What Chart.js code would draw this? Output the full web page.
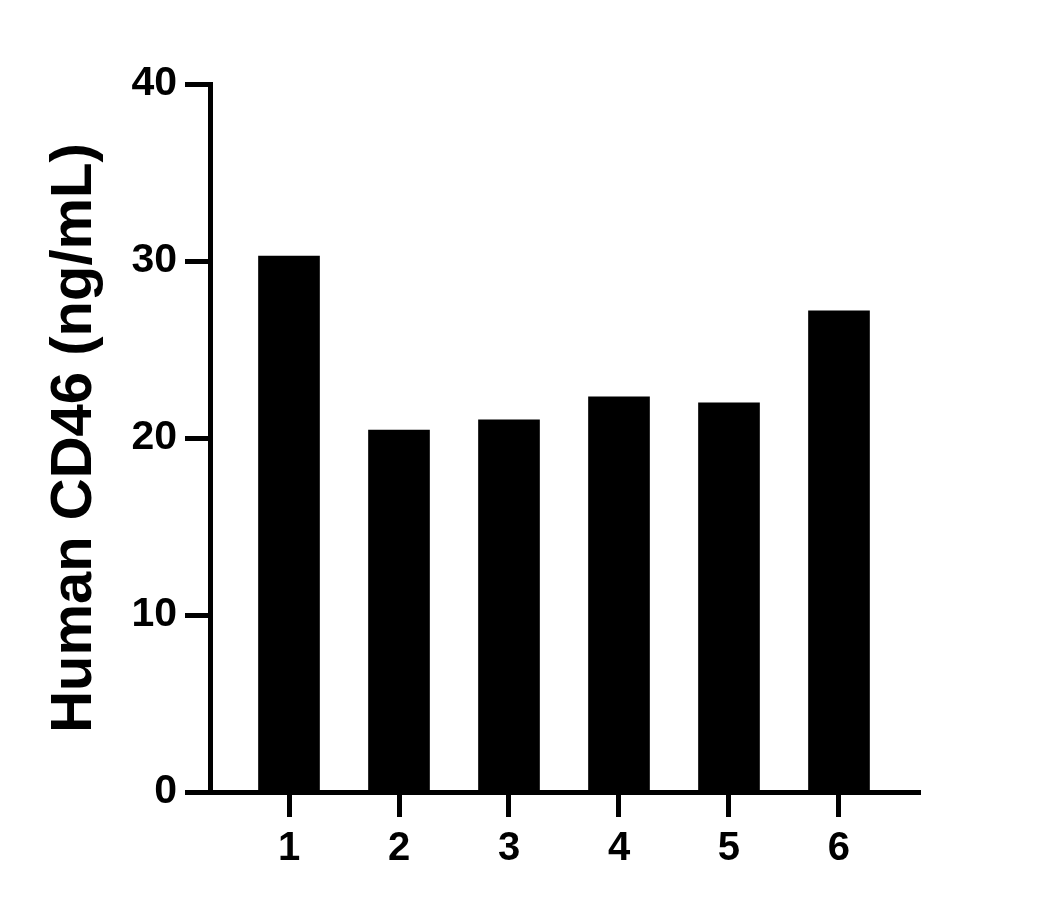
<!DOCTYPE html>
<html>
<head>
<meta charset="utf-8">
<script src="https://cdn.jsdelivr.net/npm/chart.js@4/dist/chart.umd.min.js"></script>
<style>
  html, body { margin: 0; padding: 0; background: #ffffff; }
  #wrap { width: 1052px; height: 909px; }
</style>
</head>
<body>
<div id="wrap"><canvas id="c" width="1052" height="909"></canvas></div>
<script>
// ---- data ----
const categories = [1, 2, 3, 4, 5, 6];
const values = [30.28, 20.45, 21.02, 22.32, 21.98, 27.18];
const yTicks = [0, 10, 20, 30, 40];
const yTitle = 'Human CD46 (ng/mL)';

const FONT = '"Liberation Sans", Arial, Helvetica, sans-serif';

const chart = new Chart(document.getElementById('c'), {
  type: 'bar',
  data: {
    datasets: [{
      data: categories.map((c, i) => ({ x: c, y: values[i] })),
      backgroundColor: '#000000',
      borderWidth: 0,
      barThickness: 61
    }]
  },
  options: {
    responsive: false,
    animation: false,
    devicePixelRatio: 1,
    layout: { padding: { left: 0, right: 132, top: 84, bottom: 0 } },
    plugins: { legend: { display: false }, tooltip: { enabled: false } },
    scales: {
      x: {
        type: 'linear',
        offset: false,
        min: 0.2818,
        max: 6.7364,
        afterBuildTicks: (axis) => { axis.ticks = categories.map(v => ({ value: v })); },
        afterFit: (axis) => { axis.height = 117; },
        grid: { offset: false, drawOnChartArea: false, drawTicks: true, tickLength: 25, tickWidth: 5, tickColor: '#000000' },
        border: { display: true, width: 5, color: '#000000' },
        ticks: {
          padding: 8,
          color: '#000000',
          font: { family: FONT, size: 40, weight: 'bold' },
          callback: (v) => String(v),
          maxRotation: 0,
          autoSkip: false
        }
      },
      y: {
        min: 0,
        max: 40,
        afterBuildTicks: (axis) => { axis.ticks = yTicks.map(v => ({ value: v })); },
        afterFit: (axis) => { axis.width = 210; },
        grid: { drawOnChartArea: false, drawTicks: true, tickLength: 25, tickWidth: 5, tickColor: '#000000' },
        border: { display: true, width: 5, color: '#000000' },
        ticks: {
          padding: 8,
          color: '#000000',
          font: { family: FONT, size: 41, weight: 'bold' },
          callback: (v) => String(v)
        },
        title: {
          display: true,
          text: yTitle,
          color: '#000000',
          font: { family: FONT, size: 58, weight: 'bold', lineHeight: 1.2 },
          padding: { top: 40, bottom: 0 }
        }
      }
    }
  }
});
</script>
</body>
</html>
